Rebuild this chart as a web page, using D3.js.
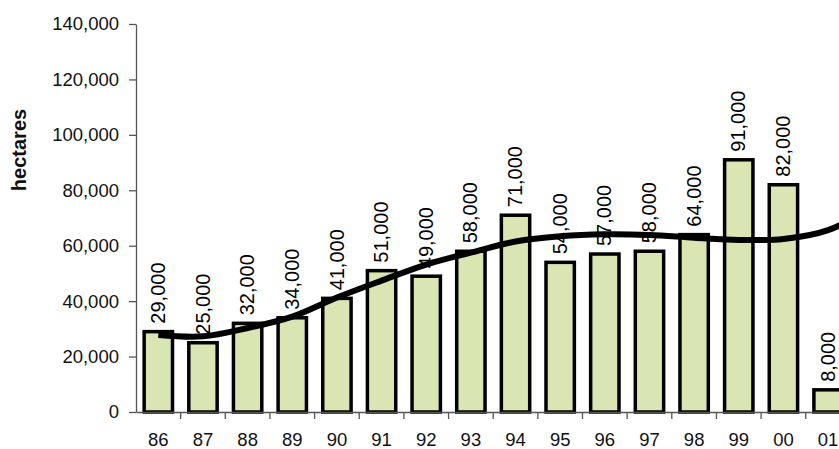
<!DOCTYPE html>
<html>
<head>
<meta charset="utf-8">
<script src="https://cdn.jsdelivr.net/npm/d3@7"></script>
<style>
  html, body { margin: 0; padding: 0; background: #fff; }
  svg { display: block; font-family: "Liberation Sans", Arial, sans-serif; }
</style>
</head>
<body>
<svg id="chart" width="839" height="449"></svg>
<script>
// ---- data ----
const years = ["86","87","88","89","90","91","92","93","94","95","96","97","98","99","00","01"];
const hectares = [29000,25000,32000,34000,41000,51000,49000,58000,71000,54000,57000,58000,64000,91000,82000,8000];
// trend line (continues past the cropped right edge)
const trendYears = ["86","87","88","89","90","91","92","93","94","95","96","97","98","99","00","01","02"];
const trendValues = [27800,27300,30300,34400,41300,47400,53200,57500,61500,63400,64100,63850,62900,62100,62400,65600,74000];
const yTicks = [0,20000,40000,60000,80000,100000,120000,140000];
const yLabel = "hectares";

// ---- layout ----
const svg = d3.select("#chart");
const mLeft = 136, mBottom = 412, mTop = 24;
const bandW = 44.65;

const x = d3.scaleBand()
  .domain(trendYears)
  .range([mLeft, mLeft + bandW * trendYears.length])
  .padding(0);

const y = d3.scaleLinear().domain([0, 140000]).range([mBottom, mTop]);

const fmt = d3.format(",");

// bars
const barW = x.bandwidth() * 0.635;
svg.append("g").selectAll("rect")
  .data(years.map((d, i) => ({year: d, v: hectares[i]})))
  .join("rect")
  .attr("x", d => x(d.year) + (x.bandwidth() - barW) / 2)
  .attr("y", d => y(d.v))
  .attr("width", barW)
  .attr("height", d => y(0) - y(d.v))
  .attr("fill", "#d9e5b3")
  .attr("stroke", "#000")
  .attr("stroke-width", 3.5);

// value labels
svg.append("g").selectAll("text")
  .data(years.map((d, i) => ({year: d, v: hectares[i]})))
  .join("text")
  .attr("transform", d => `translate(${x(d.year) + x.bandwidth() / 2},${y(d.v) - 8}) rotate(-90)`)
  .attr("dy", "0.33em")
  .attr("font-size", 20)
  .attr("fill", "#000")
  .text(d => fmt(d.v));

// axes
const yAxis = d3.axisLeft(y).tickValues(yTicks).tickFormat(fmt)
  .tickSizeInner(7).tickSizeOuter(0).tickPadding(10);
const gy = svg.append("g").attr("transform", `translate(${mLeft},0)`).call(yAxis);
gy.selectAll("text").attr("font-size", 18.5).attr("fill", "#111");
gy.selectAll("line, path").attr("stroke", "#555").attr("stroke-width", 1.3);

const xAxis = d3.axisBottom(x).tickValues(years).tickSize(0).tickPadding(21);
const gx = svg.append("g").attr("transform", `translate(0,${mBottom})`).call(xAxis);
gx.selectAll("text").attr("font-size", 18.5).attr("fill", "#111");
gx.select("path.domain").attr("stroke", "#555").attr("stroke-width", 1.3);
// boundary ticks between categories
gx.append("g").selectAll("line")
  .data(trendYears.slice(1))
  .join("line")
  .attr("x1", d => x(d)).attr("x2", d => x(d))
  .attr("y1", 0).attr("y2", 7)
  .attr("stroke", "#555").attr("stroke-width", 1.3);

// y label
svg.append("text")
  .attr("transform", `translate(26,150) rotate(-90)`)
  .attr("text-anchor", "middle")
  .attr("font-size", 20)
  .attr("font-weight", "bold")
  .attr("fill", "#111")
  .text(yLabel);

// trend line
const line = d3.line()
  .x(d => x(d.year) + x.bandwidth() / 2)
  .y(d => y(d.v))
  .curve(d3.curveCatmullRom.alpha(0.5));
svg.append("path")
  .datum(trendYears.map((d, i) => ({year: d, v: trendValues[i]})))
  .attr("d", line)
  .attr("fill", "none")
  .attr("stroke", "#000")
  .attr("stroke-width", 6)
  .attr("stroke-linecap", "butt");
</script>
</body>
</html>
